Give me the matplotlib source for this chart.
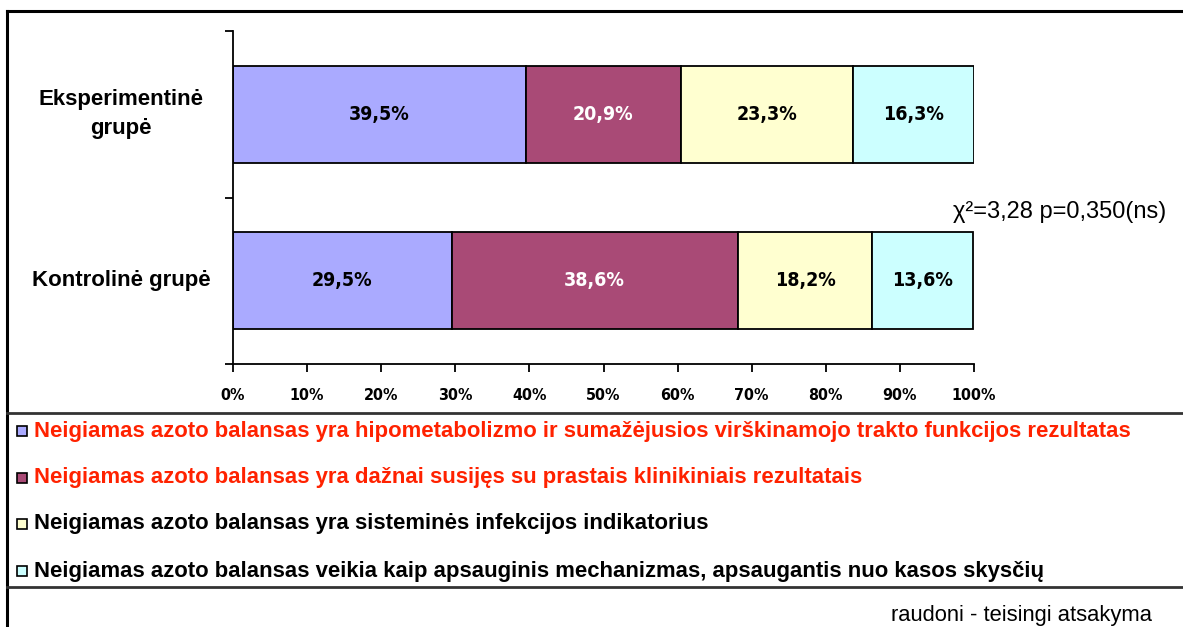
import matplotlib
matplotlib.use("Agg")
import matplotlib.pyplot as plt
from matplotlib.lines import Line2D
from matplotlib.patches import Rectangle
from matplotlib.transforms import blended_transform_factory

W, H = 1183, 627

groups = ["Kontrolinė grupė", "Eksperimentinė\ngrupė"]
answers = [
    "Neigiamas azoto balansas yra hipometabolizmo ir sumažėjusios virškinamojo trakto funkcijos rezultatas",
    "Neigiamas azoto balansas yra dažnai susijęs su prastais klinikiniais rezultatais",
    "Neigiamas azoto balansas yra sisteminės infekcijos indikatorius",
    "Neigiamas azoto balansas veikia kaip apsauginis mechanizmas, apsaugantis nuo kasos skysčių",
]
# percent per answer, order: [Kontrolinė, Eksperimentinė]
values = [
    [29.5, 39.5],
    [38.6, 20.9],
    [18.2, 23.3],
    [13.6, 16.3],
]
colors = ["#AAAAFF", "#A94A76", "#FFFFD0", "#CCFFFF"]
label_colors = ["black", "white", "black", "black"]
correct = [True, True, False, False]
stat_text = "χ²=3,28 p=0,350(ns)"
note = "raudoni - teisingi atsakyma"

SANS = ["Liberation Sans", "DejaVu Sans"]
NARROW = dict(family="DejaVu Sans", fontstretch="condensed", fontweight="bold")


def fx(px):
    return px / W


def fy(py):
    return 1 - py / H


fig = plt.figure(figsize=(W / 100, H / 100), dpi=100)
ax = fig.add_axes([fx(233), fy(364), fx(974) - fx(233), fy(31) - fy(364)])

ypos = [0.5, 1.5]
left = [0.0, 0.0]
for vals, c, lc in zip(values, colors, label_colors):
    ax.barh(ypos, vals, left=left, height=0.58, color=c, edgecolor="black", lw=1.3)
    for y, l, v in zip(ypos, left, vals):
        ax.text(l + v / 2, y, f"{v:.1f}%".replace(".", ","), ha="center", va="center",
                fontsize=14, color=lc, **NARROW)
    left = [a + b for a, b in zip(left, vals)]

ax.set_xlim(0, 100)
ax.set_ylim(0, 2)
ax.set_xticks(range(0, 101, 10))
ax.set_xticklabels([f"{t}%" for t in range(0, 101, 10)], fontsize=11.5, **NARROW)
ax.set_yticks([0, 1, 2])
ax.set_yticklabels([])
ax.tick_params(axis="x", length=6, width=1.3, pad=11)
ax.tick_params(axis="y", length=6, width=1.3)
for s in ["top", "right"]:
    ax.spines[s].set_visible(False)
for s in ["left", "bottom"]:
    ax.spines[s].set_linewidth(1.3)

# category labels
trans = blended_transform_factory(fig.transFigure, ax.transData)
for y, g in zip(ypos, groups):
    ax.text(fx(121), y, g, transform=trans, ha="center", va="center", fontsize=16,
            fontweight="bold", family=SANS, linespacing=1.5)

fig.text(fx(1166), fy(212), stat_text, ha="right", va="center", fontsize=17, family=SANS)

# frame and separators
fig.add_artist(Line2D([fx(7), fx(7)], [0, fy(11)], color="black", lw=2.2))
fig.add_artist(Line2D([fx(7), 1], [fy(11), fy(11)], color="black", lw=2.2))
fig.add_artist(Line2D([fx(7), 1], [fy(413), fy(413)], color="#333333", lw=2))
fig.add_artist(Line2D([fx(7), 1], [fy(587), fy(587)], color="#333333", lw=2))

# legend
leg_y = [431, 478, 524, 571]
for yy, txt, c, ok in zip(leg_y, answers, colors, correct):
    fig.add_artist(Rectangle((fx(17), fy(yy + 5)), fx(10), fy(yy - 5) - fy(yy + 5),
                             facecolor=c, edgecolor="black", lw=1.2))
    fig.text(fx(34), fy(yy), txt, ha="left", va="center", fontsize=15.9, fontweight="bold",
             color="#FF2200" if ok else "black", family=SANS)

fig.text(fx(1152), fy(615), note, ha="right", va="center", fontsize=15.8, family=SANS)

fig.savefig("out.png", dpi=100)
